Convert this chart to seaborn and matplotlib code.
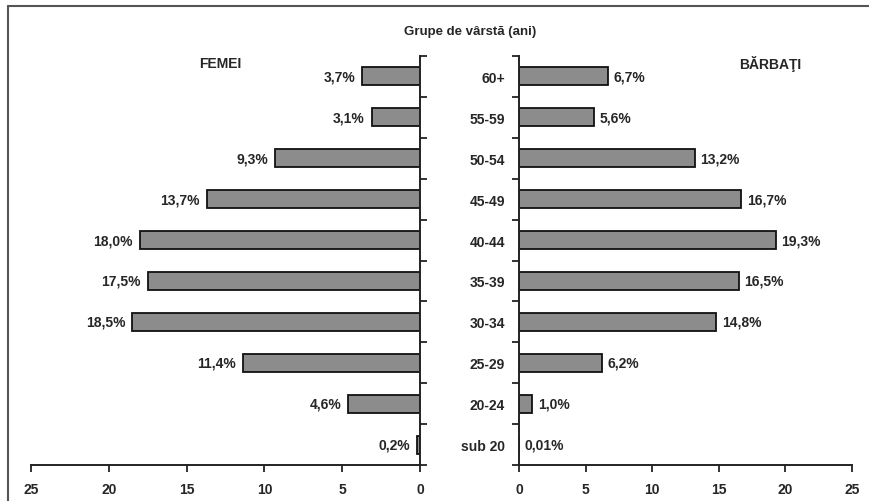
import matplotlib
matplotlib.use('Agg')
import matplotlib.pyplot as plt
import seaborn as sns
import pandas as pd
from matplotlib.lines import Line2D

# Data
age_groups = ['60+', '55-59', '50-54', '45-49', '40-44', '35-39', '30-34', '25-29', '20-24', 'sub 20']
femei = [3.7, 3.1, 9.3, 13.7, 18.0, 17.5, 18.5, 11.4, 4.6, 0.2]
barbati = [6.7, 5.6, 13.2, 16.7, 19.3, 16.5, 14.8, 6.2, 1.0, 0.01]
femei_labels = ['3,7%', '3,1%', '9,3%', '13,7%', '18,0%', '17,5%', '18,5%', '11,4%', '4,6%', '0,2%']
barbati_labels = ['6,7%', '5,6%', '13,2%', '16,7%', '19,3%', '16,5%', '14,8%', '6,2%', '1,0%', '0,01%']
x_ticks = [0, 5, 10, 15, 20, 25]

sns.set_style('white')
plt.rcParams['font.family'] = ['Liberation Sans', 'DejaVu Sans']
plt.rcParams['font.weight'] = 'bold'

df = pd.DataFrame({'Grupa': age_groups, 'Femei': femei, 'Barbati': barbati})

fig = plt.figure(figsize=(8.69, 5.02), dpi=100)
ax_f = fig.add_axes([0.0357, 0.0717, 0.4476, 0.8147])
ax_b = fig.add_axes([0.5972, 0.0717, 0.3832, 0.8147])

fs = 10
bar_color = '#8c8c8c'
for ax, col in [(ax_f, 'Femei'), (ax_b, 'Barbati')]:
    sns.barplot(data=df, x=col, y='Grupa', orient='h', color=bar_color,
                edgecolor='#111111', linewidth=1.3, width=0.44, ax=ax, saturation=1)
    ax.set_xlabel('')
    ax.set_ylabel('')
    ax.set_ylim(len(age_groups) - 0.5, -0.5)
    ax.set_xticks(x_ticks)
    ax.set_xticklabels([str(t) for t in x_ticks], fontsize=fs, fontweight='bold')
    ax.tick_params(axis='x', bottom=True, direction='out', length=5, width=1.3, pad=7, color='#222222')
    # boundary ticks as major, category labels as minor
    ax.set_yticks([i - 0.5 for i in range(len(age_groups) + 1)])
    ax.set_yticklabels([])
    ax.set_yticks(range(len(age_groups)), minor=True)
    ax.tick_params(axis='y', which='major', direction='out', length=5, width=1.3, color='#222222')
    ax.tick_params(axis='y', which='minor', length=0)
    for s in ax.spines.values():
        s.set_linewidth(1.4)
        s.set_color('#222222')
    ax.spines['top'].set_visible(False)

# Women panel: reversed axis, spine on the right
ax_f.set_xlim(25, 0)
ax_f.spines['left'].set_visible(False)
ax_f.yaxis.tick_right()
ax_f.tick_params(axis='y', which='both', left=False)
ax_f.tick_params(axis='y', which='major', right=True)
ax_f.tick_params(axis='y', which='minor', labelright=False)
for i, (v, lab) in enumerate(zip(femei, femei_labels)):
    ax_f.annotate(lab, (v, i), xytext=(-5, 0), textcoords='offset points',
                  ha='right', va='center', fontsize=fs, fontweight='bold')

# Men panel
ax_b.set_xlim(0, 25)
ax_b.spines['right'].set_visible(False)
ax_b.tick_params(axis='y', which='major', left=True)
ax_b.set_yticklabels(age_groups, minor=True, fontsize=fs, fontweight='bold')
ax_b.tick_params(axis='y', which='minor', pad=10)
for i, (v, lab) in enumerate(zip(barbati, barbati_labels)):
    ax_b.annotate(lab, (v, i), xytext=(4, 0), textcoords='offset points',
                  ha='left', va='center', fontsize=fs, fontweight='bold')

fig.text(0.541, 0.936, 'Grupe de vârstă (ani)', ha='center', va='center', fontsize=9.5, fontweight='bold')
fig.text(0.253, 0.873, 'FEMEI', ha='center', va='center', fontsize=fs, fontweight='bold')
fig.text(0.886, 0.873, 'BĂRBAŢI', ha='center', va='center', fontsize=fs, fontweight='bold')

# frame lines (top and left)
fig.add_artist(Line2D([0.009, 1.0], [0.986, 0.986], color='#555555', linewidth=1.5))
fig.add_artist(Line2D([0.009, 0.009], [0.0, 0.986], color='#555555', linewidth=1.5))

fig.savefig('out.png', dpi=100)
